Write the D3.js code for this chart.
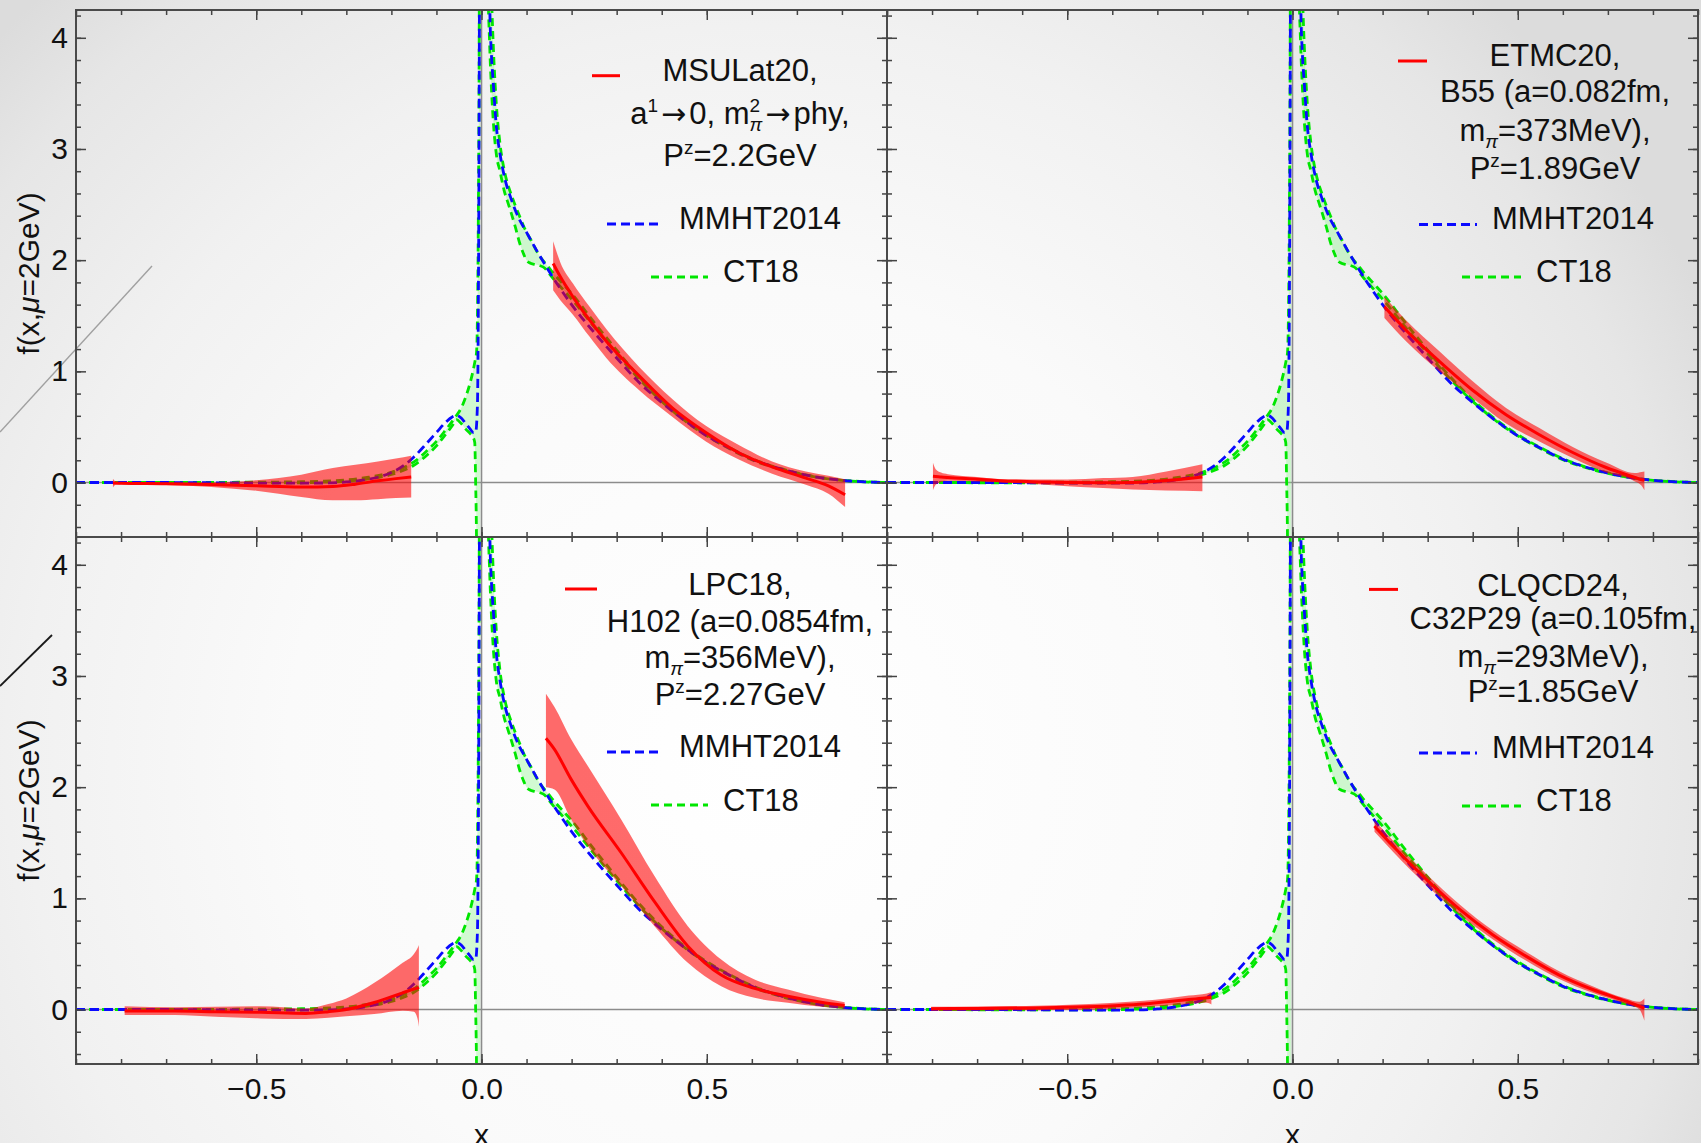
<!DOCTYPE html>
<html>
<head>
<meta charset="utf-8">
<script src="https://cdn.jsdelivr.net/npm/d3@7"></script>
<style>
  html, body { margin: 0; padding: 0; background: #fff; }
  svg { display: block; }
</style>
</head>
<body>
<svg id="chart" width="1701" height="1143"></svg>
<script>
// ---------------- data ----------------
const xDomain = [-0.9, 0.9];
const yDomain = [-0.49, 4.25];
const xTicksMajor = [-0.5, 0, 0.5];
const xTickLabels = ["\u22120.5", "0.0", "0.5"];
const yTicksMajor = [0, 1, 2, 3, 4];
const yTickLabels = ["0", "1", "2", "3", "4"];

// MMHT2014, central curve: antiquark side (x<0) and quark side (x>0)
const mmhtNeg = [
  [-0.9, 0], [-0.8, 0], [-0.7, 0], [-0.6, -0.002], [-0.5, -0.005], [-0.4, -0.006],
  [-0.35, -0.004], [-0.3, 0.005], [-0.25, 0.03], [-0.2, 0.09], [-0.17, 0.16],
  [-0.15, 0.23], [-0.12, 0.36], [-0.1, 0.45], [-0.08, 0.54], [-0.065, 0.59],
  [-0.055, 0.605], [-0.045, 0.58], [-0.035, 0.53], [-0.025, 0.48], [-0.018, 0.45],
  [-0.013, 0.45], [-0.009, 0.7], [-0.007, 1.6], [-0.0055, 3.0], [-0.0045, 4.5], [-0.003, 8]
];
const mmhtPos = [
  [0.012, 8], [0.016, 5.0], [0.0185, 4.25], [0.022, 3.85], [0.026, 3.6], [0.033, 3.2],
  [0.041, 2.96], [0.052, 2.73], [0.065, 2.56], [0.078, 2.42], [0.1, 2.25], [0.122, 2.09],
  [0.15, 1.9], [0.2, 1.6], [0.25, 1.35], [0.3, 1.12], [0.35, 0.9], [0.4, 0.72],
  [0.45, 0.56], [0.5, 0.42], [0.55, 0.31], [0.6, 0.21], [0.65, 0.14], [0.7, 0.085],
  [0.75, 0.045], [0.8, 0.02], [0.85, 0.006], [0.9, 0]
];

// CT18 band: [x, lower, upper]
const ct18Neg = [
  [-0.9, 0, 0.001], [-0.8, -0.001, 0.002], [-0.7, -0.002, 0.002], [-0.6, -0.003, 0.002],
  [-0.5, -0.004, 0.003], [-0.4, -0.002, 0.007], [-0.35, 0.003, 0.012], [-0.3, 0.012, 0.024],
  [-0.25, 0.033, 0.048], [-0.2, 0.072, 0.092], [-0.17, 0.115, 0.14], [-0.15, 0.155, 0.185],
  [-0.12, 0.25, 0.29], [-0.1, 0.33, 0.37], [-0.08, 0.43, 0.47], [-0.065, 0.51, 0.55],
  [-0.056, 0.565, 0.6], [-0.045, 0.53, 0.67], [-0.035, 0.48, 0.77], [-0.025, 0.44, 0.9],
  [-0.019, 0.41, 1.0], [-0.015, 0.36, 1.08], [-0.013, 0.0, 1.12], [-0.011, -0.55, 1.17],
  [-0.009, -2.0, 1.5], [-0.007, -5.0, 2.4], [-0.005, -10, 4.2], [-0.003, -20, 9]
];
const ct18Pos = [
  [0.008, 12, 14], [0.011, 7, 8.5], [0.014, 4.6, 6.0], [0.018, 3.95, 5.0], [0.022, 3.55, 4.4],
  [0.027, 3.2, 3.85], [0.033, 2.95, 3.4], [0.041, 2.8, 3.05], [0.05, 2.63, 2.82],
  [0.06, 2.5, 2.66], [0.067, 2.41, 2.58], [0.075, 2.3, 2.49], [0.085, 2.15, 2.39],
  [0.093, 2.06, 2.31], [0.1, 2.0, 2.25], [0.11, 1.97, 2.18], [0.12, 1.96, 2.1],
  [0.13, 1.95, 2.03], [0.14, 1.93, 1.98], [0.15, 1.88, 1.93], [0.16, 1.83, 1.88],
  [0.18, 1.74, 1.79], [0.2, 1.65, 1.7], [0.25, 1.4, 1.44], [0.3, 1.16, 1.19],
  [0.35, 0.93, 0.95], [0.4, 0.73, 0.745], [0.45, 0.56, 0.57], [0.5, 0.42, 0.43],
  [0.55, 0.305, 0.315], [0.6, 0.205, 0.215], [0.65, 0.135, 0.142], [0.7, 0.082, 0.087],
  [0.75, 0.044, 0.047], [0.8, 0.019, 0.021], [0.85, 0.006, 0.007], [0.9, 0, 0]
];

// lattice results: [x, lower, central, upper]
const msuNeg = [
  [-0.818, -0.045, -0.005, 0.035], [-0.812, -0.02, -0.005, 0.01], [-0.8, -0.015, -0.006, 0.004],
  [-0.7, -0.022, -0.01, 0.0], [-0.6, -0.04, -0.018, 0.0], [-0.5, -0.075, -0.03, 0.02],
  [-0.4, -0.13, -0.04, 0.07], [-0.33, -0.16, -0.035, 0.13], [-0.28, -0.16, -0.015, 0.16],
  [-0.23, -0.15, 0.015, 0.19], [-0.19, -0.14, 0.035, 0.215], [-0.156, -0.135, 0.05, 0.24]
];
const msuPos = [
  [0.159, 1.73, 1.97, 2.17], [0.175, 1.64, 1.85, 1.98], [0.203, 1.51, 1.67, 1.79],
  [0.24, 1.31, 1.46, 1.58], [0.277, 1.12, 1.27, 1.38], [0.35, 0.83, 0.96, 1.04],
  [0.424, 0.59, 0.67, 0.75], [0.498, 0.37, 0.45, 0.51], [0.57, 0.21, 0.27, 0.34],
  [0.645, 0.08, 0.14, 0.19], [0.72, -0.02, 0.04, 0.1], [0.77, -0.1, -0.03, 0.06],
  [0.807, -0.22, -0.11, 0.03]
];
const etmNeg = [
  [-0.798, -0.07, 0.057, 0.177], [-0.792, -0.02, 0.055, 0.12], [-0.78, 0.005, 0.05, 0.09],
  [-0.765, 0.015, 0.045, 0.075], [-0.7, 0.01, 0.03, 0.05], [-0.65, 0.002, 0.017, 0.032],
  [-0.55, -0.02, 0.004, 0.027], [-0.5, -0.033, 0.0, 0.027], [-0.42, -0.05, -0.003, 0.04],
  [-0.355, -0.063, 0.0, 0.05], [-0.28, -0.072, 0.018, 0.1], [-0.2, -0.078, 0.05, 0.165]
];
const etmPos = [
  [0.204, 1.48, 1.58, 1.67], [0.252, 1.27, 1.37, 1.46], [0.326, 1.0, 1.09, 1.18],
  [0.4, 0.76, 0.83, 0.91], [0.474, 0.53, 0.61, 0.67], [0.548, 0.37, 0.43, 0.49],
  [0.622, 0.22, 0.27, 0.32], [0.696, 0.09, 0.135, 0.18], [0.76, 0.01, 0.045, 0.085],
  [0.775, -0.03, 0.025, 0.095], [0.781, -0.07, 0.02, 0.1]
];
const lpcNeg = [
  [-0.792, -0.05, -0.014, 0.03], [-0.68, -0.05, -0.014, 0.02], [-0.59, -0.065, -0.02, 0.025],
  [-0.49, -0.08, -0.025, 0.03], [-0.39, -0.085, -0.035, 0.01], [-0.34, -0.075, -0.02, 0.05],
  [-0.3, -0.06, 0.0, 0.1], [-0.238, -0.04, 0.063, 0.24], [-0.175, -0.01, 0.15, 0.42],
  [-0.15, -0.02, 0.185, 0.5], [-0.141, -0.1, 0.195, 0.56], [-0.139, -0.155, 0.2, 0.58]
];
const lpcPos = [
  [0.143, 2.0, 2.44, 2.84], [0.162, 1.98, 2.34, 2.72], [0.199, 1.71, 2.07, 2.43],
  [0.236, 1.47, 1.83, 2.19], [0.31, 1.11, 1.41, 1.71], [0.384, 0.75, 0.97, 1.2],
  [0.458, 0.42, 0.57, 0.75], [0.532, 0.21, 0.31, 0.45], [0.606, 0.105, 0.19, 0.27],
  [0.68, 0.06, 0.12, 0.18], [0.754, 0.024, 0.066, 0.105], [0.806, 0.006, 0.036, 0.066]
];
const clqNeg = [
  [-0.802, -0.012, 0.007, 0.026], [-0.7, -0.008, 0.01, 0.028], [-0.57, -0.006, 0.014, 0.034],
  [-0.48, -0.003, 0.022, 0.045], [-0.395, 0.008, 0.035, 0.062], [-0.33, 0.02, 0.05, 0.08],
  [-0.28, 0.035, 0.07, 0.1], [-0.23, 0.05, 0.09, 0.125], [-0.19, 0.06, 0.105, 0.145],
  [-0.18, 0.045, 0.11, 0.155]
];
const clqPos = [
  [0.182, 1.6, 1.65, 1.7], [0.223, 1.42, 1.47, 1.52], [0.297, 1.12, 1.17, 1.22],
  [0.371, 0.855, 0.9, 0.945], [0.445, 0.63, 0.67, 0.71], [0.518, 0.44, 0.48, 0.52],
  [0.592, 0.275, 0.31, 0.345], [0.666, 0.15, 0.18, 0.21], [0.74, 0.05, 0.075, 0.1],
  [0.77, 0.0, 0.03, 0.07], [0.781, -0.1, 0.01, 0.1]
];

// legend texts (^{..} superscript, _{..} subscript)
const msuLegend = ["MSULat20,", "a^{1}\u21920, m^{2}_{\u03c0}\u2192phy,", "P^{z}=2.2GeV"];
const etmLegend = ["ETMC20,", "B55 (a=0.082fm,", "m_{\u03c0}=373MeV),", "P^{z}=1.89GeV"];
const lpcLegend = ["LPC18,", "H102 (a=0.0854fm,", "m_{\u03c0}=356MeV),", "P^{z}=2.27GeV"];
const clqLegend = ["CLQCD24,", "C32P29 (a=0.105fm,", "m_{\u03c0}=293MeV),", "P^{z}=1.85GeV"];
const globalNames = ["MMHT2014", "CT18"];
const xAxisTitle = "x";

// ---------------- layout & style ----------------
const FONT = "'Liberation Sans', Arial, sans-serif";
const ARROW_FONT = "'DejaVu Sans', sans-serif";
const PW = 811, PH = 527;
const COLX = [76, 887], ROWY = [10, 537];
const RED = "#ff0000", BLUE = "#0a0aff", GREEN = "#00e600";

const panels = [
  { col: 0, row: 0, neg: msuNeg, pos: msuPos, legend: msuLegend,
    lay: { cx: 664, base: [70.6, 113.5, 156], red: [516, 544, 65.7], mm: [531, 587, 214, 603, 219], ct: [575, 632, 267, 647, 272] } },
  { col: 1, row: 0, neg: etmNeg, pos: etmPos, legend: etmLegend,
    lay: { cx: 668, base: [56, 92, 131, 169], red: [511, 540, 51], mm: [532, 590, 214.5, 605, 219], ct: [575, 634, 267, 649, 272] } },
  { col: 0, row: 1, neg: lpcNeg, pos: lpcPos, legend: lpcLegend,
    lay: { cx: 664, base: [58, 95, 131, 168], red: [489, 521, 52], mm: [531, 587, 215, 603, 220], ct: [575, 632, 268, 647, 274] } },
  { col: 1, row: 1, neg: clqNeg, pos: clqPos, legend: clqLegend,
    lay: { cx: 666, base: [58.7, 92, 129.5, 164.5], red: [482, 511, 52.4], mm: [532, 590, 216, 605, 221], ct: [575, 634, 269, 649, 274] } }
];

const svg = d3.select("#chart");
const defs = svg.append("defs");

// soft grey backdrop, darkest towards the outer edges
const grad = defs.append("radialGradient").attr("id", "bg")
  .attr("gradientUnits", "userSpaceOnUse")
  .attr("cx", 760).attr("cy", 760).attr("r", 1050);
[[0, "#ffffff"], [0.45, "#fafafa"], [0.7, "#f1f1f1"], [0.9, "#e6e6e6"], [1, "#dcdcdc"]]
  .forEach(([o, c]) => grad.append("stop").attr("offset", o).attr("stop-color", c));
svg.append("rect").attr("width", 1701).attr("height", 1143).attr("fill", "url(#bg)");

// thin strokes at the left margin
svg.append("line").attr("x1", 0).attr("y1", 432).attr("x2", 152).attr("y2", 266)
  .attr("stroke", "#a0a0a0").attr("stroke-width", 1.4);
svg.append("line").attr("x1", 0).attr("y1", 686).attr("x2", 52).attr("y2", 635)
  .attr("stroke", "#1a1a1a").attr("stroke-width", 1.8);

// rich text helper for super/subscripts and arrows
function addRich(g, x, y, str, anchor, size) {
  const t = g.append("text").attr("x", x).attr("y", y)
    .attr("text-anchor", anchor).attr("font-size", size)
    .attr("font-family", FONT).attr("fill", "#111");
  const parts = str.split(/(\^\{[^}]*\}|_\{[^}]*\}|\u2192)/).filter(p => p.length);
  let shift = 0, prevSup = null, padNext = 0;
  parts.forEach(p => {
    let kind = "n", txt = p;
    if (p.startsWith("^{")) { kind = "sup"; txt = p.slice(2, -1); }
    else if (p.startsWith("_{")) { kind = "sub"; txt = p.slice(2, -1); }
    else if (p === "\u2192") { kind = "arrow"; }
    const target = kind === "sup" ? -12 : kind === "sub" ? 7 : 0;
    const ts = t.append("tspan").text(txt);
    if (target - shift !== 0) ts.attr("dy", target - shift);
    shift = target;
    if (kind === "sup" || kind === "sub") ts.attr("font-size", 19);
    if (kind === "sub") ts.attr("font-style", "italic");
    let dx = padNext;
    padNext = 0;
    if (kind === "arrow") {
      ts.attr("font-family", ARROW_FONT).attr("font-size", 30);
      dx += 3; padNext = 3;
    }
    if (kind === "sub" && prevSup) dx -= prevSup.node().getComputedTextLength();
    if (dx !== 0) ts.attr("dx", dx);
    prevSup = kind === "sup" ? ts : null;
  });
  return t;
}

function styleAxis(sel) {
  sel.select(".domain").remove();
  sel.selectAll(".tick line").attr("stroke", "#444").attr("stroke-width", 1.5);
  sel.selectAll(".tick text").attr("font-size", 30).attr("font-family", FONT).attr("fill", "#111");
}

panels.forEach((p, i) => {
  const x0 = COLX[p.col], y0 = ROWY[p.row];
  const x = d3.scaleLinear().domain(xDomain).range([x0, x0 + PW]);
  const y = d3.scaleLinear().domain(yDomain).range([y0 + PH, y0]);

  const clipId = "clip" + i;
  defs.append("clipPath").attr("id", clipId).append("rect")
    .attr("x", x0).attr("y", y0).attr("width", PW).attr("height", PH);

  const plot = svg.append("g").attr("clip-path", `url(#${clipId})`);

  // zero lines
  plot.append("line").attr("x1", x0).attr("x2", x0 + PW).attr("y1", y(0)).attr("y2", y(0))
    .attr("stroke", "#8c8c8c").attr("stroke-width", 1.6);
  plot.append("line").attr("x1", x(0)).attr("x2", x(0)).attr("y1", y0).attr("y2", y0 + PH)
    .attr("stroke", "#8c8c8c").attr("stroke-width", 1.6);

  // CT18 band
  const bandArea = d3.area().x(d => x(d[0])).y0(d => y(d[1])).y1(d => y(d[2])).curve(d3.curveMonotoneX);
  [ct18Neg, ct18Pos].forEach(band => {
    plot.append("path").datum(band).attr("d", bandArea)
      .attr("fill", "rgba(120,245,120,0.32)");
    [1, 2].forEach(k => {
      plot.append("path").datum(band)
        .attr("d", d3.line().x(d => x(d[0])).y(d => y(d[k])).curve(d3.curveMonotoneX))
        .attr("fill", "none").attr("stroke", GREEN).attr("stroke-width", 2.8)
        .attr("stroke-dasharray", "8,5");
    });
  });

  // MMHT2014
  const mmLine = d3.line().x(d => x(d[0])).y(d => y(d[1])).curve(d3.curveMonotoneX);
  [mmhtNeg, mmhtPos].forEach(c => {
    plot.append("path").datum(c).attr("d", mmLine)
      .attr("fill", "none").attr("stroke", BLUE).attr("stroke-width", 2.8)
      .attr("stroke-dasharray", "9,5");
  });

  // lattice band + central curve
  const latArea = d3.area().x(d => x(d[0])).y0(d => y(d[1])).y1(d => y(d[3])).curve(d3.curveMonotoneX);
  const latLine = d3.line().x(d => x(d[0])).y(d => y(d[2])).curve(d3.curveMonotoneX);
  [p.neg, p.pos].forEach(s => {
    plot.append("path").datum(s).attr("d", latArea)
      .attr("fill", RED).attr("fill-opacity", 0.58);
    plot.append("path").datum(s).attr("d", latLine)
      .attr("fill", "none").attr("stroke", RED).attr("stroke-width", 3);
  });

  // frame
  svg.append("rect").attr("x", x0).attr("y", y0).attr("width", PW).attr("height", PH)
    .attr("fill", "none").attr("stroke", "#4a4a4a").attr("stroke-width", 2);

  // ticks on all four sides, pointing inwards
  const xMinor = x.ticks(18), yMinor = y.ticks(24);
  const showX = p.row === 1, showY = p.col === 0;
  const axB = svg.append("g").attr("transform", `translate(0,${y0 + PH})`);
  axB.append("g").call(d3.axisBottom(x).tickValues(xMinor).tickSize(-5).tickFormat("")).call(styleAxis);
  axB.append("g").call(d3.axisBottom(x).tickValues(xTicksMajor).tickSize(-10).tickPadding(14)
    .tickFormat((d, k) => showX ? xTickLabels[k] : "")).call(styleAxis);
  const axT = svg.append("g").attr("transform", `translate(0,${y0})`);
  axT.append("g").call(d3.axisTop(x).tickValues(xMinor).tickSize(-5).tickFormat("")).call(styleAxis);
  axT.append("g").call(d3.axisTop(x).tickValues(xTicksMajor).tickSize(-10).tickFormat("")).call(styleAxis);
  const axL = svg.append("g").attr("transform", `translate(${x0},0)`);
  axL.append("g").call(d3.axisLeft(y).tickValues(yMinor).tickSize(-5).tickFormat("")).call(styleAxis);
  axL.append("g").call(d3.axisLeft(y).tickValues(yTicksMajor).tickSize(-10).tickPadding(8)
    .tickFormat((d, k) => showY ? yTickLabels[k] : "")).call(styleAxis);
  const axR = svg.append("g").attr("transform", `translate(${x0 + PW},0)`);
  axR.append("g").call(d3.axisRight(y).tickValues(yMinor).tickSize(-5).tickFormat("")).call(styleAxis);
  axR.append("g").call(d3.axisRight(y).tickValues(yTicksMajor).tickSize(-10).tickFormat("")).call(styleAxis);

  // axis titles
  if (showY) {
    const t = svg.append("text")
      .attr("transform", `translate(39,${y0 + PH / 2}) rotate(-90)`)
      .attr("text-anchor", "middle").attr("font-size", 30)
      .attr("font-family", FONT).attr("fill", "#111");
    t.append("tspan").text("f(x,");
    t.append("tspan").attr("font-style", "italic").text("\u03bc");
    t.append("tspan").text("=2GeV)");
  }
  if (showX) {
    svg.append("text").attr("x", x0 + PW / 2).attr("y", 1145)
      .attr("text-anchor", "middle").attr("font-size", 30)
      .attr("font-family", FONT).attr("fill", "#111").text(xAxisTitle);
  }

  // legend
  const L = p.lay;
  const lg = svg.append("g");
  lg.append("line").attr("x1", x0 + L.red[0]).attr("x2", x0 + L.red[1])
    .attr("y1", y0 + L.red[2]).attr("y2", y0 + L.red[2])
    .attr("stroke", RED).attr("stroke-width", 3);
  p.legend.forEach((line, k) => addRich(lg, x0 + L.cx, y0 + L.base[k], line, "middle", 31));
  lg.append("line").attr("x1", x0 + L.mm[0]).attr("x2", x0 + L.mm[1])
    .attr("y1", y0 + L.mm[2]).attr("y2", y0 + L.mm[2])
    .attr("stroke", BLUE).attr("stroke-width", 2.8).attr("stroke-dasharray", "9,5");
  addRich(lg, x0 + L.mm[3], y0 + L.mm[4], globalNames[0], "start", 31);
  lg.append("line").attr("x1", x0 + L.ct[0]).attr("x2", x0 + L.ct[1])
    .attr("y1", y0 + L.ct[2]).attr("y2", y0 + L.ct[2])
    .attr("stroke", GREEN).attr("stroke-width", 2.8).attr("stroke-dasharray", "8,5");
  addRich(lg, x0 + L.ct[3], y0 + L.ct[4], globalNames[1], "start", 31);
});
</script>
</body>
</html>
